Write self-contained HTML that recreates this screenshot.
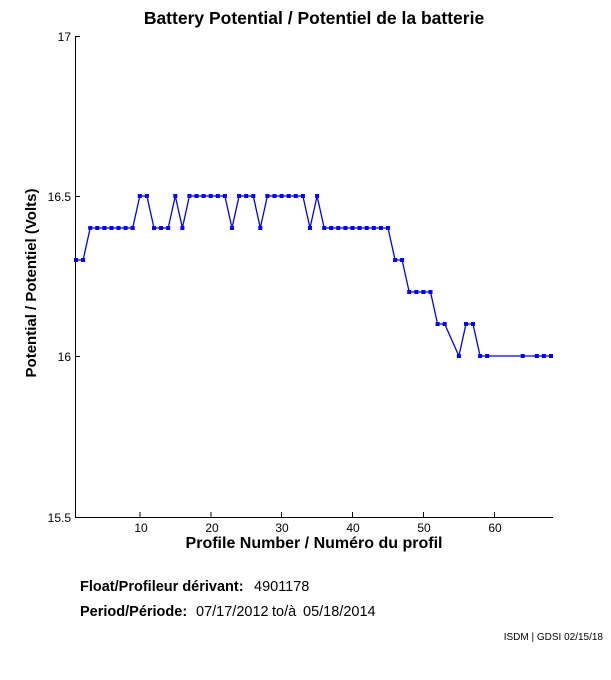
<!DOCTYPE html>
<html><head><style>
body{margin:0;background:#fff;}
svg text{font-family:"Liberation Sans",sans-serif;}
</style></head><body>
<svg width="611" height="675" viewBox="0 0 611 675" xmlns="http://www.w3.org/2000/svg">
<defs>
<marker id="m" markerUnits="userSpaceOnUse" markerWidth="6" markerHeight="6" refX="3" refY="3" viewBox="0 0 6 6">
<rect x="1" y="1" width="4" height="4" fill="#0000ff"/>
</marker>
</defs>
<rect width="611" height="675" fill="#fff"/>
<text x="314" y="24" font-size="17.5" font-weight="bold" text-anchor="middle">Battery Potential / Potentiel de la batterie</text>
<g stroke="#000" stroke-width="1" fill="none">
<line x1="75.5" y1="36" x2="75.5" y2="517"/>
<line x1="75" y1="517.5" x2="553" y2="517.5"/>
<line x1="75" y1="36.5" x2="80" y2="36.5"/>
<line x1="75" y1="196.5" x2="80" y2="196.5"/>
<line x1="75" y1="356.5" x2="80" y2="356.5"/>
<line x1="140" y1="517" x2="140" y2="512"/>
<line x1="211" y1="517" x2="211" y2="512"/>
<line x1="281.5" y1="517" x2="281.5" y2="512"/>
<line x1="352.5" y1="517" x2="352.5" y2="512"/>
<line x1="423.5" y1="517" x2="423.5" y2="512"/>
<line x1="494.5" y1="517" x2="494.5" y2="512"/>
</g>
<g font-size="12" text-anchor="end">
<text x="71" y="41">17</text>
<text x="71" y="201">16.5</text>
<text x="71" y="361">16</text>
<text x="71" y="522">15.5</text>
</g>
<g font-size="12" text-anchor="middle">
<text x="141" y="532">10</text>
<text x="212" y="532">20</text>
<text x="282" y="532">30</text>
<text x="353" y="532">40</text>
<text x="424" y="532">50</text>
<text x="495" y="532">60</text>
</g>
<text x="314" y="548" font-size="16" font-weight="bold" text-anchor="middle">Profile Number / Numéro du profil</text>
<text transform="translate(36,283) rotate(-90)" font-size="15" font-weight="bold" text-anchor="middle">Potential / Potentiel (Volts)</text>
<polyline fill="none" stroke="#0000ff" stroke-width="1.3" marker-start="url(#m)" marker-mid="url(#m)" marker-end="url(#m)" points="76,260 83.1,260 90.2,228 97.3,228 104.4,228 111.5,228 118.5,228 125.6,228 132.7,228 139.8,196 146.9,196 154,228 161.1,228 168.2,228 175.3,196 182.4,228 189.4,196 196.5,196 203.6,196 210.7,196 217.8,196 224.9,196 232,228 239.1,196 246.2,196 253.3,196 260.3,228 267.4,196 274.5,196 281.6,196 288.7,196 295.8,196 302.9,196 310,228 317.1,196 324.2,228 331.2,228 338.3,228 345.4,228 352.5,228 359.6,228 366.7,228 373.8,228 380.9,228 388,228 395.1,260 402.1,260 409.2,292 416.3,292 423.4,292 430.5,292 437.6,324 444.7,324 458.9,356 466,324 473,324 480.1,356 487.2,356 522.7,356 536.8,356 543.9,356 551,356"/>
<text x="80" y="591" font-size="14.5"><tspan font-weight="bold">Float/Profileur dérivant:</tspan><tspan x="254">4901178</tspan></text>
<text x="80" y="616" font-size="14.5"><tspan font-weight="bold">Period/Période:</tspan><tspan x="196">07/17/2012</tspan><tspan x="272">to/à</tspan><tspan x="303">05/18/2014</tspan></text>
<text x="603" y="640" font-size="10" text-anchor="end">ISDM | GDSI 02/15/18</text>
</svg>
</body></html>
